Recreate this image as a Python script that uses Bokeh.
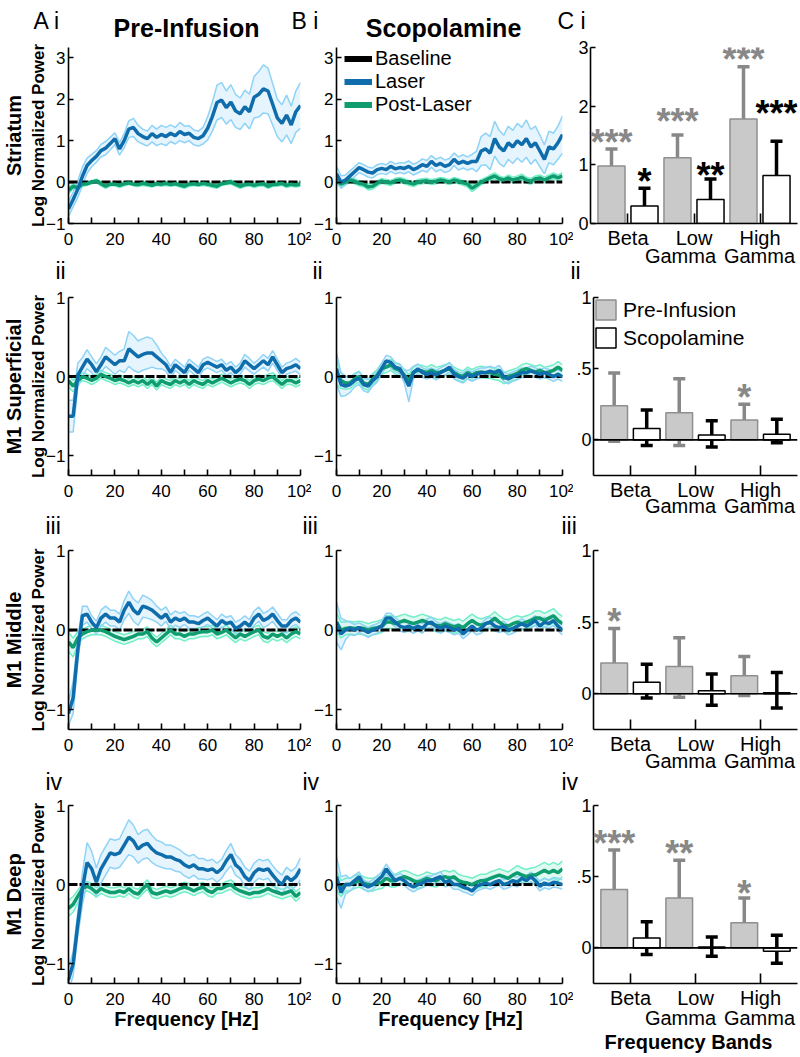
import numpy as np
from bokeh.plotting import figure
from bokeh.models import (Range1d, FixedTicker, Label, LabelSet, ColumnDataSource,
                          Whisker, TeeHead, Span, Legend, LegendItem)
from bokeh.layouts import row, column
from bokeh.embed import file_html
from bokeh.resources import INLINE
from bokeh.core.properties import value

FONT = "Liberation Sans"

# ---------------- data ----------------
FREQ = list(range(0, 101, 2))
BASELINE = [0.0] * len(FREQ)

REGIONS = ["Striatum", "M1 Superficial", "M1 Middle", "M1 Deep"]
CONDITIONS = ["Pre-Infusion", "Scopolamine"]
BANDS_TOP = ["Beta", "Low", "High"]
BANDS_BOTTOM = ["", "Gamma", "Gamma"]
BAND_POS = [1, 2, 3]

# Striatum, pre-infusion
STR_PRE_LASER = [-0.65, -0.42, -0.17, 0.14, 0.40, 0.52, 0.62, 0.76, 0.82, 0.93,
                 1.05, 0.80, 1.00, 1.28, 1.32, 1.17, 1.10, 1.05, 1.17, 1.08,
                 1.15, 1.10, 1.18, 1.12, 1.22, 1.15, 1.18, 1.08, 1.05, 1.12,
                 1.30, 1.58, 1.92, 1.98, 1.80, 1.93, 1.72, 1.65, 1.82, 1.70,
                 2.05, 2.12, 2.25, 2.20, 1.88, 1.55, 1.42, 1.62, 1.38, 1.70,
                 1.85]
STR_PRE_LASER_SEM = [0.18, 0.18, 0.20, 0.22, 0.18, 0.15, 0.14, 0.15, 0.16, 0.15,
                     0.14, 0.15, 0.17, 0.20, 0.22, 0.20, 0.18, 0.18, 0.20, 0.20,
                     0.22, 0.22, 0.20, 0.20, 0.22, 0.20, 0.18, 0.18, 0.18, 0.20,
                     0.28, 0.35, 0.42, 0.42, 0.40, 0.42, 0.40, 0.38, 0.40, 0.42,
                     0.50, 0.55, 0.58, 0.55, 0.50, 0.45, 0.45, 0.48, 0.45, 0.50,
                     0.55]
STR_PRE_POST = [-0.20, -0.10, -0.14, -0.05, -0.04, 0.00, 0.03, -0.04, -0.10, -0.05,
                -0.05, -0.08, -0.04, -0.02, -0.05, -0.06, -0.03, -0.05, -0.08, -0.04,
                -0.05, -0.03, -0.06, -0.04, -0.07, -0.10, -0.05, -0.04, -0.06, -0.03,
                -0.05, -0.08, -0.10, -0.04, -0.02, 0.00, -0.05, -0.10, -0.06, -0.05,
                -0.08, -0.05, -0.04, -0.10, -0.06, -0.05, -0.03, -0.08, -0.05, -0.07,
                -0.05]
STR_PRE_POST_SEM = [0.08, 0.06, 0.05, 0.05, 0.04, 0.04, 0.04, 0.05, 0.05, 0.04,
                    0.04, 0.05, 0.05, 0.04, 0.04, 0.05, 0.05, 0.05, 0.04, 0.04,
                    0.05, 0.05, 0.04, 0.04, 0.05, 0.05, 0.05, 0.04, 0.04, 0.05,
                    0.05, 0.05, 0.05, 0.04, 0.04, 0.05, 0.05, 0.05, 0.05, 0.04,
                    0.05, 0.05, 0.05, 0.05, 0.04, 0.05, 0.05, 0.05, 0.05, 0.05,
                    0.05]
# Striatum, scopolamine
STR_SCO_LASER = [0.20, 0.00, 0.05, 0.15, 0.25, 0.35, 0.30, 0.24, 0.22, 0.30,
                 0.33, 0.30, 0.38, 0.32, 0.35, 0.33, 0.38, 0.30, 0.35, 0.42,
                 0.38, 0.50, 0.40, 0.45, 0.38, 0.42, 0.55, 0.45, 0.50, 0.45,
                 0.50, 0.50, 0.75, 0.80, 0.70, 1.05, 0.85, 0.75, 0.95, 0.85,
                 1.00, 0.90, 1.05, 0.85, 0.95, 0.75, 0.55, 0.85, 0.80, 0.95,
                 1.15]
STR_SCO_LASER_SEM = [0.18, 0.15, 0.12, 0.12, 0.12, 0.12, 0.12, 0.12, 0.12, 0.12,
                     0.12, 0.12, 0.12, 0.12, 0.12, 0.13, 0.13, 0.13, 0.13, 0.14,
                     0.14, 0.14, 0.15, 0.15, 0.15, 0.15, 0.15, 0.16, 0.16, 0.16,
                     0.17, 0.25, 0.35, 0.38, 0.40, 0.42, 0.40, 0.38, 0.40, 0.40,
                     0.42, 0.42, 0.45, 0.42, 0.40, 0.38, 0.35, 0.38, 0.38, 0.40,
                     0.45]
STR_SCO_POST = [0.05, -0.05, 0.00, 0.05, 0.02, -0.03, -0.05, -0.12, -0.10, -0.03,
                0.03, 0.00, -0.02, 0.03, 0.05, 0.02, -0.02, -0.05, 0.00, 0.02,
                0.03, 0.00, 0.02, 0.05, 0.03, 0.00, 0.05, 0.02, -0.02, -0.05,
                -0.15, -0.08, 0.00, 0.05, 0.10, 0.15, 0.08, 0.05, 0.10, 0.05,
                0.08, 0.12, 0.05, 0.02, 0.08, 0.10, 0.05, 0.10, 0.15, 0.10,
                0.15]
STR_SCO_POST_SEM = [0.08, 0.07, 0.06, 0.06, 0.06, 0.06, 0.06, 0.07, 0.07, 0.06,
                    0.06, 0.06, 0.06, 0.06, 0.06, 0.06, 0.06, 0.06, 0.06, 0.06,
                    0.06, 0.06, 0.06, 0.06, 0.06, 0.06, 0.06, 0.06, 0.06, 0.07,
                    0.08, 0.07, 0.06, 0.06, 0.07, 0.07, 0.07, 0.06, 0.07, 0.07,
                    0.07, 0.07, 0.07, 0.07, 0.07, 0.07, 0.07, 0.07, 0.07, 0.07,
                    0.08]
# M1 superficial
SUP_PRE_LASER = [-0.50, -0.50, 0.02, 0.12, 0.22, 0.15, 0.06, 0.15, 0.25, 0.20,
                 0.15, 0.20, 0.20, 0.35, 0.30, 0.25, 0.28, 0.30, 0.30, 0.25,
                 0.20, 0.15, 0.05, 0.15, 0.10, 0.05, 0.15, 0.10, 0.05, 0.15,
                 0.18, 0.15, 0.12, 0.15, 0.08, 0.12, 0.05, 0.10, 0.20, 0.15,
                 0.10, 0.15, 0.20, 0.15, 0.25, 0.15, 0.05, 0.10, 0.12, 0.15,
                 0.10]
SUP_PRE_LASER_SEM = [0.20, 0.20, 0.15, 0.12, 0.12, 0.10, 0.10, 0.10, 0.12, 0.12,
                     0.12, 0.12, 0.15, 0.22, 0.22, 0.20, 0.20, 0.20, 0.18, 0.15,
                     0.10, 0.08, 0.08, 0.07, 0.07, 0.07, 0.07, 0.07, 0.07, 0.07,
                     0.07, 0.07, 0.07, 0.07, 0.07, 0.07, 0.07, 0.07, 0.08, 0.08,
                     0.07, 0.07, 0.08, 0.08, 0.08, 0.07, 0.07, 0.07, 0.07, 0.08,
                     0.08]
SUP_PRE_POST = [-0.05, -0.12, -0.05, 0.00, -0.02, -0.05, -0.02, 0.03, 0.00, -0.02,
                -0.05, -0.03, -0.05, -0.08, -0.05, -0.08, -0.05, -0.10, -0.05, -0.12,
                -0.05, -0.08, -0.10, -0.05, -0.08, -0.05, -0.10, -0.05, -0.08, -0.10,
                -0.05, -0.08, -0.05, -0.02, -0.05, -0.08, -0.05, -0.03, -0.05, -0.10,
                -0.05, -0.03, -0.05, -0.02, 0.00, -0.05, -0.10, -0.05, -0.05, -0.08,
                -0.05]
SUP_PRE_POST_SEM = [0.08, 0.07, 0.05, 0.05, 0.05, 0.05, 0.05, 0.05, 0.05, 0.05,
                    0.05, 0.05, 0.05, 0.05, 0.05, 0.05, 0.05, 0.05, 0.05, 0.05,
                    0.05, 0.05, 0.05, 0.05, 0.05, 0.05, 0.05, 0.05, 0.05, 0.05,
                    0.05, 0.05, 0.05, 0.05, 0.05, 0.05, 0.05, 0.05, 0.05, 0.05,
                    0.05, 0.05, 0.05, 0.05, 0.05, 0.05, 0.05, 0.05, 0.05, 0.05,
                    0.05]
SUP_SCO_LASER = [0.10, -0.10, -0.12, -0.10, -0.05, -0.02, -0.10, -0.12, -0.05, 0.00,
                 0.10, 0.20, 0.18, 0.12, 0.10, 0.00, -0.12, 0.05, 0.10, 0.05,
                 0.03, 0.05, 0.02, 0.05, 0.08, 0.12, 0.03, 0.00, -0.02, 0.03,
                 0.00, 0.03, 0.05, 0.05, 0.07, 0.05, 0.08, 0.00, -0.03, 0.00,
                 0.02, 0.05, 0.05, 0.07, 0.05, 0.03, 0.05, 0.03, 0.00, 0.03,
                 0.00]
SUP_SCO_LASER_SEM = [0.20, 0.15, 0.12, 0.10, 0.08, 0.08, 0.08, 0.08, 0.07, 0.07,
                     0.07, 0.07, 0.07, 0.06, 0.06, 0.08, 0.20, 0.08, 0.06, 0.06,
                     0.06, 0.06, 0.06, 0.06, 0.06, 0.06, 0.06, 0.06, 0.06, 0.06,
                     0.06, 0.06, 0.06, 0.06, 0.06, 0.06, 0.06, 0.06, 0.06, 0.06,
                     0.06, 0.06, 0.06, 0.06, 0.06, 0.06, 0.06, 0.06, 0.06, 0.06,
                     0.06]
SUP_SCO_POST = [0.05, -0.05, -0.08, -0.08, -0.03, 0.00, -0.08, -0.10, -0.03, 0.02,
                0.10, 0.12, 0.15, 0.10, 0.08, 0.02, -0.05, 0.05, 0.08, 0.07,
                0.05, 0.08, 0.05, 0.06, 0.08, 0.10, 0.05, 0.02, 0.00, 0.05,
                0.02, 0.05, 0.06, 0.05, 0.05, 0.03, 0.02, -0.02, 0.00, 0.02,
                0.04, 0.08, 0.10, 0.08, 0.06, 0.08, 0.05, 0.06, 0.08, 0.12,
                0.08]
SUP_SCO_POST_SEM = [0.15, 0.10, 0.08, 0.07, 0.07, 0.07, 0.07, 0.07, 0.07, 0.07,
                    0.07, 0.07, 0.07, 0.07, 0.07, 0.07, 0.07, 0.07, 0.07, 0.07,
                    0.07, 0.07, 0.07, 0.07, 0.07, 0.07, 0.07, 0.07, 0.07, 0.07,
                    0.07, 0.07, 0.07, 0.07, 0.07, 0.07, 0.07, 0.07, 0.07, 0.07,
                    0.07, 0.07, 0.07, 0.07, 0.07, 0.07, 0.07, 0.07, 0.07, 0.07,
                    0.07]
# M1 middle
MID_PRE_LASER = [-1.05, -0.85, -0.25, 0.18, 0.20, 0.10, 0.03, 0.15, 0.20, 0.15,
                 0.15, 0.10, 0.25, 0.35, 0.25, 0.20, 0.30, 0.28, 0.25, 0.20,
                 0.15, 0.20, 0.10, 0.15, 0.12, 0.15, 0.10, 0.10, 0.08, 0.12,
                 0.15, 0.10, 0.05, 0.12, 0.08, 0.10, 0.02, 0.05, 0.10, 0.05,
                 0.15, 0.20, 0.12, 0.15, 0.20, 0.12, 0.05, 0.05, 0.12, 0.15,
                 0.10]
MID_PRE_LASER_SEM = [0.15, 0.20, 0.15, 0.12, 0.10, 0.08, 0.08, 0.10, 0.10, 0.10,
                     0.10, 0.10, 0.12, 0.14, 0.14, 0.14, 0.14, 0.13, 0.12, 0.10,
                     0.10, 0.09, 0.09, 0.09, 0.09, 0.08, 0.08, 0.08, 0.08, 0.08,
                     0.08, 0.08, 0.08, 0.08, 0.08, 0.08, 0.08, 0.08, 0.08, 0.08,
                     0.09, 0.09, 0.09, 0.09, 0.09, 0.09, 0.08, 0.08, 0.08, 0.08,
                     0.08]
MID_PRE_POST = [-0.15, -0.22, -0.10, -0.05, -0.02, 0.00, 0.00, 0.00, -0.02, -0.05,
                -0.08, -0.10, -0.12, -0.10, -0.08, -0.05, -0.05, -0.02, -0.10, -0.15,
                -0.10, -0.05, 0.00, -0.05, -0.05, -0.08, -0.05, -0.05, -0.03, -0.02,
                -0.02, 0.00, -0.05, -0.03, 0.00, -0.05, -0.10, -0.05, -0.08, -0.05,
                -0.02, 0.00, -0.08, -0.10, -0.05, -0.08, -0.05, -0.10, -0.05, -0.02,
                -0.05]
MID_PRE_POST_SEM = [0.12, 0.12, 0.08, 0.06, 0.06, 0.06, 0.06, 0.06, 0.06, 0.06,
                    0.06, 0.06, 0.06, 0.06, 0.06, 0.06, 0.06, 0.06, 0.06, 0.06,
                    0.06, 0.06, 0.06, 0.06, 0.06, 0.06, 0.06, 0.06, 0.06, 0.06,
                    0.06, 0.06, 0.06, 0.06, 0.06, 0.06, 0.06, 0.06, 0.06, 0.06,
                    0.06, 0.06, 0.06, 0.06, 0.06, 0.06, 0.06, 0.06, 0.06, 0.06,
                    0.06]
MID_SCO_LASER = [0.10, -0.05, 0.00, 0.02, 0.00, 0.03, 0.00, -0.03, 0.00, 0.02,
                 0.05, 0.15, 0.15, 0.10, 0.05, 0.03, 0.05, 0.02, 0.05, 0.02,
                 0.08, 0.10, 0.05, 0.02, 0.05, 0.03, 0.00, 0.02, -0.05, 0.00,
                 0.05, 0.00, 0.02, 0.08, 0.10, 0.05, 0.03, 0.05, 0.00, 0.02,
                 0.05, 0.08, 0.05, 0.08, 0.12, 0.05, 0.10, 0.08, 0.12, 0.05,
                 0.00]
MID_SCO_LASER_SEM = [0.25, 0.20, 0.12, 0.08, 0.07, 0.06, 0.06, 0.06, 0.06, 0.06,
                     0.06, 0.06, 0.06, 0.06, 0.06, 0.06, 0.06, 0.06, 0.06, 0.06,
                     0.06, 0.06, 0.06, 0.06, 0.06, 0.06, 0.06, 0.06, 0.06, 0.06,
                     0.06, 0.06, 0.06, 0.06, 0.06, 0.06, 0.06, 0.06, 0.06, 0.06,
                     0.06, 0.06, 0.06, 0.06, 0.06, 0.06, 0.06, 0.06, 0.06, 0.06,
                     0.06]
MID_SCO_POST = [0.10, 0.00, 0.02, 0.03, 0.02, 0.03, 0.02, 0.00, 0.02, 0.03,
                0.05, 0.10, 0.10, 0.08, 0.10, 0.12, 0.10, 0.08, 0.10, 0.12,
                0.10, 0.08, 0.06, 0.05, 0.08, 0.06, 0.04, 0.06, 0.03, 0.08,
                0.12, 0.08, 0.06, 0.08, 0.10, 0.15, 0.10, 0.06, 0.05, 0.08,
                0.10, 0.08, 0.10, 0.12, 0.15, 0.15, 0.12, 0.15, 0.18, 0.12,
                0.08]
MID_SCO_POST_SEM = [0.12, 0.10, 0.08, 0.08, 0.08, 0.08, 0.08, 0.08, 0.08, 0.08,
                    0.08, 0.08, 0.08, 0.08, 0.08, 0.08, 0.08, 0.08, 0.08, 0.08,
                    0.08, 0.08, 0.08, 0.08, 0.08, 0.08, 0.08, 0.08, 0.08, 0.08,
                    0.08, 0.08, 0.08, 0.08, 0.08, 0.08, 0.08, 0.08, 0.08, 0.08,
                    0.08, 0.08, 0.08, 0.08, 0.09, 0.09, 0.09, 0.09, 0.09, 0.09,
                    0.09]
# M1 deep
DEEP_PRE_LASER = [-1.20, -1.00, -0.50, -0.05, 0.28, 0.20, 0.03, 0.20, 0.30, 0.40,
                  0.38, 0.40, 0.50, 0.60, 0.55, 0.45, 0.50, 0.52, 0.45, 0.40,
                  0.38, 0.35, 0.35, 0.32, 0.30, 0.25, 0.22, 0.25, 0.20, 0.20,
                  0.18, 0.20, 0.15, 0.20, 0.30, 0.38, 0.25, 0.20, 0.10, 0.05,
                  0.15, 0.20, 0.18, 0.20, 0.12, 0.05, 0.00, 0.10, 0.05, 0.10,
                  0.20]
DEEP_PRE_LASER_SEM = [0.15, 0.15, 0.15, 0.20, 0.25, 0.22, 0.18, 0.18, 0.18, 0.18,
                      0.18, 0.18, 0.20, 0.22, 0.20, 0.18, 0.18, 0.18, 0.17, 0.16,
                      0.16, 0.15, 0.15, 0.15, 0.14, 0.14, 0.14, 0.13, 0.13, 0.13,
                      0.12, 0.12, 0.12, 0.12, 0.13, 0.14, 0.13, 0.12, 0.12, 0.12,
                      0.12, 0.12, 0.12, 0.12, 0.12, 0.12, 0.12, 0.12, 0.12, 0.12,
                      0.14]
DEEP_PRE_POST = [-0.30, -0.25, -0.15, -0.05, -0.02, -0.05, -0.10, -0.05, -0.08, -0.10,
                 -0.10, -0.08, -0.10, -0.05, -0.10, -0.12, -0.05, 0.00, -0.10, -0.12,
                 -0.10, -0.08, -0.10, -0.08, -0.05, -0.03, -0.05, -0.08, -0.05, -0.03,
                 -0.08, -0.10, -0.05, -0.05, -0.02, 0.00, -0.05, -0.08, -0.10, -0.12,
                 -0.10, -0.10, -0.08, -0.05, -0.08, -0.10, -0.12, -0.10, -0.08, -0.15,
                 -0.10]
DEEP_PRE_POST_SEM = [0.10, 0.10, 0.08, 0.06, 0.06, 0.06, 0.06, 0.06, 0.06, 0.06,
                     0.06, 0.06, 0.06, 0.06, 0.06, 0.06, 0.06, 0.06, 0.06, 0.06,
                     0.06, 0.06, 0.06, 0.06, 0.06, 0.06, 0.06, 0.06, 0.06, 0.06,
                     0.06, 0.06, 0.06, 0.06, 0.06, 0.06, 0.06, 0.06, 0.06, 0.06,
                     0.06, 0.06, 0.06, 0.06, 0.06, 0.06, 0.06, 0.06, 0.06, 0.06,
                     0.06]
DEEP_SCO_LASER = [0.10, -0.10, 0.00, 0.00, 0.05, 0.10, 0.00, -0.03, 0.00, 0.05,
                  0.10, 0.20, 0.12, 0.05, 0.08, 0.05, 0.00, -0.03, 0.00, 0.02,
                  0.05, 0.05, 0.08, 0.10, 0.03, 0.05, 0.00, 0.00, -0.03, -0.05,
                  -0.08, -0.02, 0.00, 0.02, 0.00, 0.03, 0.05, 0.00, 0.02, 0.05,
                  0.03, 0.08, 0.05, 0.10, 0.05, -0.02, 0.02, 0.00, 0.03, 0.02,
                  0.00]
DEEP_SCO_LASER_SEM = [0.25, 0.20, 0.12, 0.08, 0.07, 0.06, 0.06, 0.06, 0.06, 0.06,
                      0.06, 0.06, 0.06, 0.06, 0.06, 0.06, 0.06, 0.06, 0.06, 0.06,
                      0.06, 0.06, 0.06, 0.06, 0.06, 0.06, 0.06, 0.06, 0.06, 0.06,
                      0.06, 0.06, 0.06, 0.06, 0.06, 0.06, 0.06, 0.06, 0.06, 0.06,
                      0.06, 0.06, 0.06, 0.06, 0.06, 0.06, 0.06, 0.06, 0.06, 0.06,
                      0.06]
DEEP_SCO_POST = [0.05, -0.05, 0.00, 0.00, 0.03, 0.05, 0.02, 0.00, 0.00, 0.02,
                 0.03, 0.08, 0.05, 0.05, 0.08, 0.10, 0.08, 0.05, 0.03, 0.05,
                 0.08, 0.06, 0.05, 0.08, 0.10, 0.08, 0.10, 0.05, 0.03, 0.02,
                 0.00, 0.03, 0.05, 0.05, 0.08, 0.10, 0.12, 0.10, 0.08, 0.12,
                 0.15, 0.12, 0.10, 0.12, 0.12, 0.15, 0.18, 0.15, 0.18, 0.15,
                 0.20]
DEEP_SCO_POST_SEM = [0.12, 0.10, 0.08, 0.08, 0.08, 0.08, 0.08, 0.08, 0.08, 0.08,
                     0.08, 0.08, 0.08, 0.08, 0.08, 0.08, 0.08, 0.08, 0.08, 0.08,
                     0.08, 0.08, 0.08, 0.08, 0.08, 0.08, 0.08, 0.08, 0.08, 0.08,
                     0.08, 0.08, 0.08, 0.08, 0.08, 0.08, 0.08, 0.08, 0.08, 0.08,
                     0.09, 0.09, 0.09, 0.09, 0.10, 0.10, 0.10, 0.10, 0.10, 0.10,
                     0.10]

# Band summaries (mean, upper error, lower error)
STR_BAR_PRE = [0.98, 1.12, 1.78]
STR_BAR_PRE_HI = [1.27, 1.51, 2.67]
STR_BAR_PRE_LO = [0.66, 0.71, 1.05]
STR_BAR_SCO = [0.30, 0.41, 0.82]
STR_BAR_SCO_HI = [0.60, 0.76, 1.40]
STR_BAR_SCO_LO = [0.07, 0.10, 0.27]
SUP_BAR_PRE = [0.24, 0.19, 0.14]
SUP_BAR_PRE_HI = [0.47, 0.43, 0.25]
SUP_BAR_PRE_LO = [-0.01, -0.04, 0.03]
SUP_BAR_SCO = [0.08, 0.035, 0.04]
SUP_BAR_SCO_HI = [0.21, 0.135, 0.145]
SUP_BAR_SCO_LO = [-0.04, -0.05, -0.02]
MID_BAR_PRE = [0.215, 0.19, 0.126]
MID_BAR_PRE_HI = [0.455, 0.39, 0.26]
MID_BAR_PRE_LO = [0.015, -0.025, -0.012]
MID_BAR_SCO = [0.08, 0.02, 0.007]
MID_BAR_SCO_HI = [0.205, 0.138, 0.148]
MID_BAR_SCO_LO = [-0.03, -0.08, -0.10]
DEEP_BAR_PRE = [0.41, 0.35, 0.177]
DEEP_BAR_PRE_HI = [0.687, 0.615, 0.35]
DEEP_BAR_PRE_LO = [0.143, 0.104, 0.016]
DEEP_BAR_SCO = [0.069, 0.007, -0.023]
DEEP_BAR_SCO_HI = [0.184, 0.076, 0.088]
DEEP_BAR_SCO_LO = [-0.046, -0.058, -0.108]

# significance marks and their heights
STR_STAR_PRE = ["***", "***", "***"]
STR_STAR_PRE_Y = [1.50, 1.85, 2.92]
STR_STAR_SCO = ["*", "**", "***"]
STR_STAR_SCO_Y = [0.83, 0.94, 1.99]
SUP_STAR_PRE = ["", "", "*"]
SUP_STAR_PRE_Y = [0.0, 0.0, 0.344]
MID_STAR_PRE = ["*", "", ""]
MID_STAR_PRE_Y = [0.552, 0.0, 0.0]
DEEP_STAR_PRE = ["***", "**", "*"]
DEEP_STAR_PRE_Y = [0.78, 0.71, 0.433]

LINES = [
    (STR_PRE_LASER, STR_PRE_LASER_SEM, STR_PRE_POST, STR_PRE_POST_SEM,
     STR_SCO_LASER, STR_SCO_LASER_SEM, STR_SCO_POST, STR_SCO_POST_SEM),
    (SUP_PRE_LASER, SUP_PRE_LASER_SEM, SUP_PRE_POST, SUP_PRE_POST_SEM,
     SUP_SCO_LASER, SUP_SCO_LASER_SEM, SUP_SCO_POST, SUP_SCO_POST_SEM),
    (MID_PRE_LASER, MID_PRE_LASER_SEM, MID_PRE_POST, MID_PRE_POST_SEM,
     MID_SCO_LASER, MID_SCO_LASER_SEM, MID_SCO_POST, MID_SCO_POST_SEM),
    (DEEP_PRE_LASER, DEEP_PRE_LASER_SEM, DEEP_PRE_POST, DEEP_PRE_POST_SEM,
     DEEP_SCO_LASER, DEEP_SCO_LASER_SEM, DEEP_SCO_POST, DEEP_SCO_POST_SEM),
]
BARS = [
    (STR_BAR_PRE, STR_BAR_PRE_HI, STR_BAR_PRE_LO, STR_BAR_SCO, STR_BAR_SCO_HI, STR_BAR_SCO_LO,
     STR_STAR_PRE, STR_STAR_PRE_Y, STR_STAR_SCO, STR_STAR_SCO_Y),
    (SUP_BAR_PRE, SUP_BAR_PRE_HI, SUP_BAR_PRE_LO, SUP_BAR_SCO, SUP_BAR_SCO_HI, SUP_BAR_SCO_LO,
     SUP_STAR_PRE, SUP_STAR_PRE_Y, [], []),
    (MID_BAR_PRE, MID_BAR_PRE_HI, MID_BAR_PRE_LO, MID_BAR_SCO, MID_BAR_SCO_HI, MID_BAR_SCO_LO,
     MID_STAR_PRE, MID_STAR_PRE_Y, [], []),
    (DEEP_BAR_PRE, DEEP_BAR_PRE_HI, DEEP_BAR_PRE_LO, DEEP_BAR_SCO, DEEP_BAR_SCO_HI, DEEP_BAR_SCO_LO,
     DEEP_STAR_PRE, DEEP_STAR_PRE_Y, [], []),
]

# ---------------- styling / layout ----------------
LASER_C = "#0f6dab"
LASER_EDGE = "#8fd3f6"
LASER_FILL = "#dcf0fc"
POST_C = "#0f9c6f"
POST_EDGE = "#72efc9"
POST_FILL = "#d4f8eb"
PRE_FILL = "#c9c9c9"
PRE_LINE = "#8f8f8f"
PRE_ERR = "#888888"

PAGE_W, PAGE_H = 799, 1056
COL_W = [311, 262, 226]
COL_BL = [68, 19, 17]
COL_BR = [11, 11, 2]
ROW_H = [263, 252, 255, 286]
ROW_BT = [47, 34, 35, 35]
ROW_BB = [40, 40, 41, 73]
ROW_Y0 = [0, 263, 515, 770]


def make_fig(c, r, xr, yr):
    p = figure(width=COL_W[c], height=ROW_H[r], x_range=xr, y_range=yr,
               output_backend="svg", toolbar_location=None, title=None,
               min_border_left=COL_BL[c], min_border_right=COL_BR[c],
               min_border_top=ROW_BT[r], min_border_bottom=ROW_BB[r])
    p.xgrid.visible = False
    p.ygrid.visible = False
    p.outline_line_color = None
    p.background_fill_color = "white"
    p.border_fill_color = "white"
    return p


def style_axis(ax, size, tick_in, standoff):
    ax.axis_line_color = "black"
    ax.axis_line_width = 1.6
    ax.major_tick_line_color = "black"
    ax.major_tick_line_width = 1.6
    ax.major_tick_in = tick_in
    ax.major_tick_out = 0
    ax.minor_tick_line_color = "black"
    ax.minor_tick_line_width = 1.6
    ax.minor_tick_in = tick_in
    ax.minor_tick_out = 0
    ax.major_label_text_font = FONT
    ax.major_label_text_font_size = f"{size}px"
    ax.major_label_text_color = "black"
    ax.major_label_standoff = standoff


def line_panel(c, r, laser, laser_sem, post, post_sem):
    yr = Range1d(-1, 3.25) if r == 0 else Range1d(-1.25, 1)
    p = make_fig(c, r, Range1d(0, 100), yr)
    x = np.array(FREQ, dtype=float)
    lm, ls = np.array(laser), np.array(laser_sem)
    pm, ps = np.array(post), np.array(post_sem)
    p.varea(x=x, y1=pm - ps, y2=pm + ps, fill_color=POST_FILL, fill_alpha=0.7)
    p.varea(x=x, y1=lm - ls, y2=lm + ls, fill_color=LASER_FILL, fill_alpha=0.7)
    for edge in (pm - ps, pm + ps):
        p.line(x, edge, line_color=POST_EDGE, line_width=1.5)
    for edge in (lm - ls, lm + ls):
        p.line(x, edge, line_color=LASER_EDGE, line_width=1.5)
    p.line(x, BASELINE, line_color="black", line_width=3, line_dash="9 2")
    p.line(x, pm, line_color=POST_C, line_width=3.5)
    p.line(x, lm, line_color=LASER_C, line_width=3.5)
    p.xaxis.ticker = FixedTicker(ticks=[0, 20, 40, 60, 80, 100], minor_ticks=[10, 30, 50, 70, 90])
    p.xaxis.major_label_overrides = {100: "10²"}
    p.yaxis.ticker = FixedTicker(ticks=[-1, 0, 1, 2, 3] if r == 0 else [-1, 0, 1], minor_ticks=[])
    style_axis(p.xaxis[0], 17, 6, 6)
    style_axis(p.yaxis[0], 17, 5, 3)
    return p


def bar_panel(r, pre, pre_hi, pre_lo, sco, sco_hi, sco_lo, st_pre, st_pre_y, st_sco, st_sco_y):
    c = 2
    yr = Range1d(0, 3) if r == 0 else Range1d(-0.25, 1)
    p = make_fig(c, r, Range1d(0.432, 3.568), yr)
    xp = [b - 0.25 for b in BAND_POS]
    xs = [b + 0.25 for b in BAND_POS]
    if r > 0:
        p.add_layout(Span(location=0, dimension="width", line_color="black", line_width=1.6))
    rpre = p.vbar(x=xp, top=pre, bottom=0, width=0.41, fill_color=PRE_FILL,
                  line_color=PRE_LINE, line_width=1.5)
    rsco = p.vbar(x=xs, top=sco, bottom=0, width=0.41, fill_color="white",
                  line_color="black", line_width=1.5)
    for xx, hi, lo, col in ((xp, pre_hi, pre_lo, PRE_ERR), (xs, sco_hi, sco_lo, "black")):
        src = ColumnDataSource(dict(base=xx, upper=hi, lower=lo))
        p.add_layout(Whisker(source=src, base="base", upper="upper", lower="lower",
                             dimension="height", line_color=col, line_width=3.5,
                             upper_head=TeeHead(size=12, line_color=col, line_width=3.5),
                             lower_head=TeeHead(size=12, line_color=col, line_width=3.5)))
    for xx, txt, yy, col in ((xp, st_pre, st_pre_y, PRE_ERR), (xs, st_sco, st_sco_y, "black")):
        if not txt:
            continue
        src = ColumnDataSource(dict(x=xx, y=yy, t=txt))
        p.add_layout(LabelSet(x="x", y="y", text="t", source=src, text_align="center",
                              text_baseline="middle", text_font=value(FONT),
                              text_font_size="36px", text_font_style="bold",
                              text_color=col, y_offset=-7))
    p.xaxis.ticker = FixedTicker(ticks=BAND_POS, minor_ticks=[])
    p.xaxis.major_label_overrides = {b: t for b, t in zip(BAND_POS, BANDS_TOP)}
    if r == 0:
        p.yaxis.ticker = FixedTicker(ticks=[0, 1, 2, 3], minor_ticks=[])
    else:
        p.yaxis.ticker = FixedTicker(ticks=[0, 0.5, 1], minor_ticks=[])
        p.yaxis.major_label_overrides = {0.5: ".5"}
    style_axis(p.xaxis[0], 20, 10, 3)
    style_axis(p.yaxis[0], 18, 5, 2)
    return p, rpre, rsco


# overlay figure for the texts that sit around the panels (page pixel coordinates)
ov = figure(width=PAGE_W, height=PAGE_H, x_range=Range1d(0, PAGE_W), y_range=Range1d(PAGE_H, 0),
            output_backend="svg", toolbar_location=None, title=None,
            x_axis_location=None, y_axis_location=None,
            min_border=0, min_border_left=0, min_border_right=0,
            min_border_top=0, min_border_bottom=0)
ov.grid.visible = False
ov.outline_line_color = None
ov.background_fill_alpha = 0
ov.border_fill_alpha = 0
ov.styles = {"margin-top": f"-{PAGE_H}px", "pointer-events": "none"}


def otext(x, y, text, size, bold=False, align="left", angle=0.0):
    ov.add_layout(Label(x=x, y=y, text=text, text_font=FONT, text_font_size=f"{size}px",
                        text_font_style="bold" if bold else "normal",
                        text_align=align, text_baseline="middle", angle=angle,
                        text_color="black"))


ROW_TAG = ["i", "ii", "iii", "iv"]
TAG_Y = [20, 270, 525, 781]
TAG_X = {1: (55, 312, 570), 2: (45, 302, 561), 3: (45, 302, 561)}
GAMMA_Y = [255, 505, 760, 1017]

rows = []
for r in range(4):
    d = LINES[r]
    pa = line_panel(0, r, d[0], d[1], d[2], d[3])
    pb = line_panel(1, r, d[4], d[5], d[6], d[7])
    pc, rpre, rsco = bar_panel(r, *BARS[r])
    ftop = ROW_Y0[r] + ROW_BT[r]
    fbot = ROW_Y0[r] + ROW_H[r] - ROW_BB[r]
    ymid = (ftop + fbot) / 2.0
    otext(13, ymid, REGIONS[r], 20, bold=True, align="center", angle=np.pi / 2)
    otext(38, ymid, "Log Normalized Power", 17, bold=True, align="center", angle=np.pi / 2)
    if r == 0:
        otext(33, TAG_Y[0], "A i", 23)
        otext(291, TAG_Y[0], "B i", 23)
        otext(557, TAG_Y[0], "C i", 23)
        otext(186, 27, CONDITIONS[0], 25, bold=True, align="center")
        otext(443, 27, CONDITIONS[1], 25, bold=True, align="center")
    else:
        for xx in TAG_X[r]:
            otext(xx, TAG_Y[r], ROW_TAG[r], 23)
    otext(680, GAMMA_Y[r], BANDS_BOTTOM[1], 20, align="center")
    otext(759, GAMMA_Y[r], BANDS_BOTTOM[2], 20, align="center")
    if r == 0:
        lb = pb.line(x=[np.nan], y=[np.nan], line_color="black", line_width=6)
        ll = pb.line(x=[np.nan], y=[np.nan], line_color=LASER_C, line_width=6)
        lp = pb.line(x=[np.nan], y=[np.nan], line_color=POST_C, line_width=6)
        leg = Legend(items=[LegendItem(label="Baseline", renderers=[lb]),
                            LegendItem(label="Laser", renderers=[ll]),
                            LegendItem(label="Post-Laser", renderers=[lp])],
                     location=(8, 107.5), glyph_width=28, glyph_height=23,
                     label_height=23, spacing=0, padding=0, margin=0,
                     label_standoff=3, label_text_font=FONT,
                     label_text_font_size="20px", label_text_color="black",
                     border_line_color=None, background_fill_alpha=0)
        pb.add_layout(leg)
    if r == 1:
        leg = Legend(items=[LegendItem(label=CONDITIONS[0], renderers=[rpre]),
                            LegendItem(label=CONDITIONS[1], renderers=[rsco])],
                     location=(0, 125), glyph_width=25, glyph_height=25,
                     label_height=25, spacing=3, padding=0, margin=0,
                     label_standoff=5, label_text_font=FONT,
                     label_text_font_size="21px", label_text_color="black",
                     border_line_color=None, background_fill_alpha=0)
        pc.add_layout(leg)
    rows.append(row(pa, pb, pc))

otext(186, 1018, "Frequency [Hz]", 20, bold=True, align="center")
otext(450, 1018, "Frequency [Hz]", 20, bold=True, align="center")
otext(688, 1041, "Frequency Bands", 20, bold=True, align="center")

layout = column(*rows, ov)
open("out.html", "w").write(file_html(layout, INLINE))
